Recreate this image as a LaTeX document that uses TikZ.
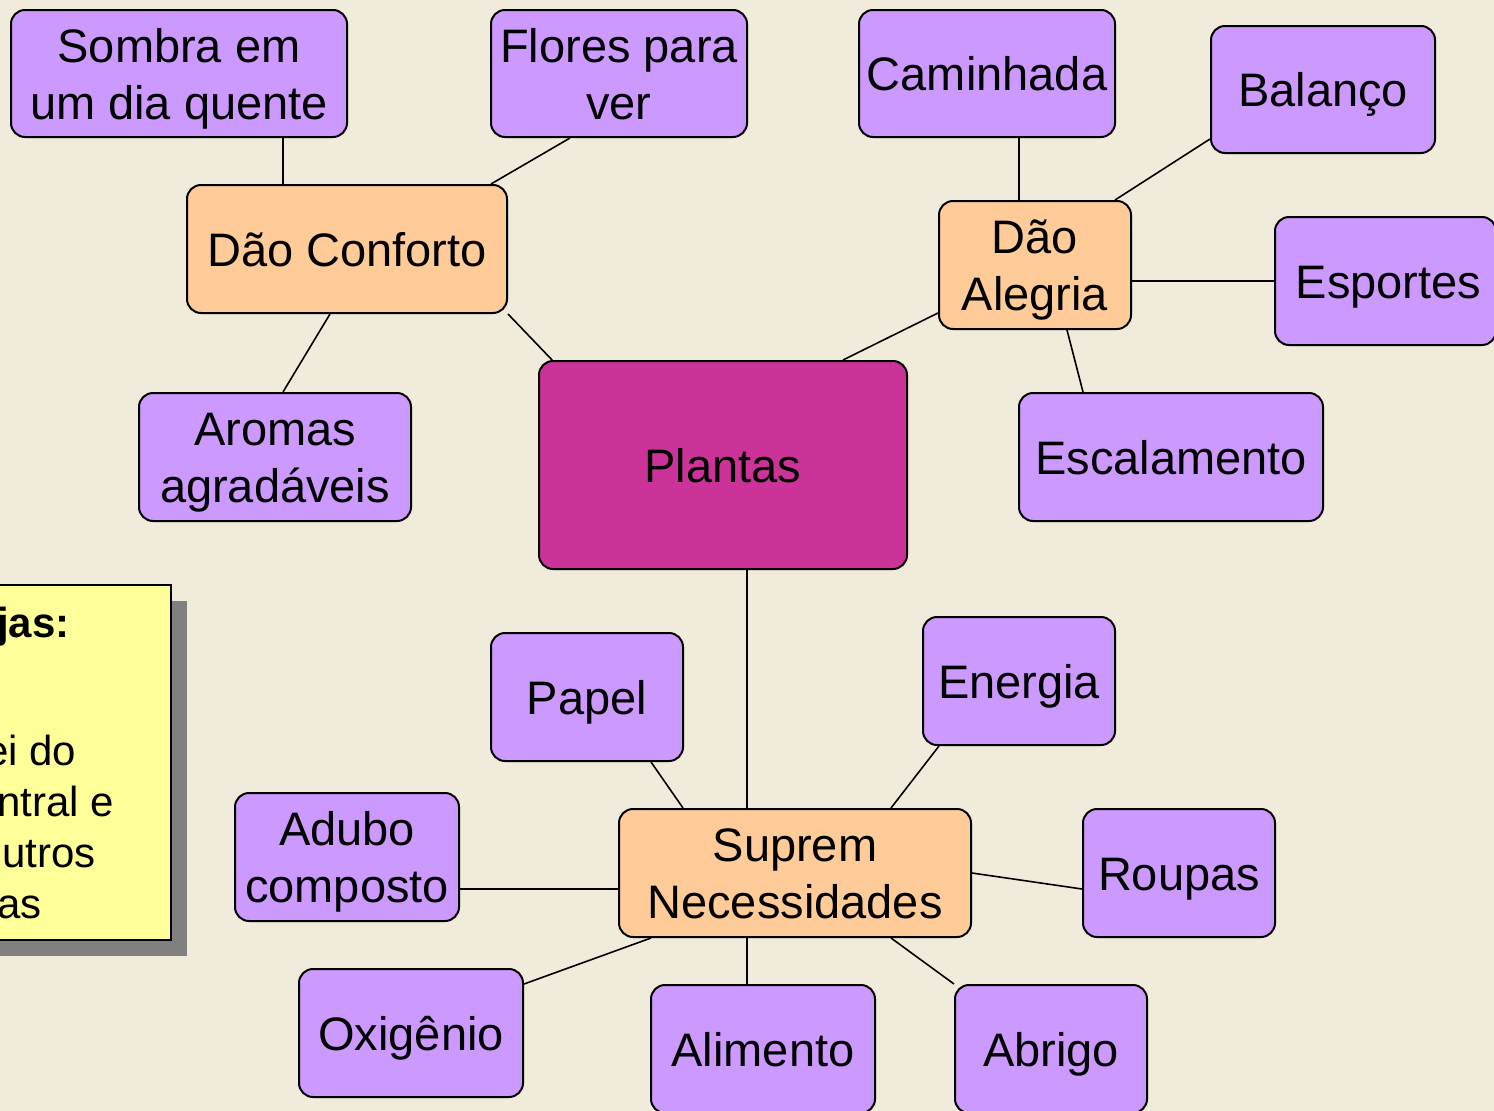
\documentclass[tikz,border=0pt]{standalone}
\usepackage{fontspec}
\setmainfont{Liberation Sans}
\usetikzlibrary{calc}
\definecolor{bgc}{RGB}{240,235,218}
\definecolor{purp}{HTML}{CC99FF}
\definecolor{oran}{HTML}{FFCC99}
\definecolor{mage}{HTML}{CC3399}
\definecolor{yell}{HTML}{FFFF99}
\definecolor{shad}{HTML}{808080}
\pgfdeclarelayer{bg}
\pgfdeclarelayer{lines}
\pgfsetlayers{bg,lines,main}
\tikzset{
  box/.style={draw=black, line width=2pt, rounded corners=14pt, inner sep=0pt,
    align=center, font=\fontsize{47}{57}\selectfont, text height=34pt, text depth=0pt},
  two/.style={text height=91pt, text depth=0pt},
  leaf/.style={box, fill=purp},
  mid/.style={box, fill=oran},
  hub/.style={box, fill=mage},
  conn/.style={draw=black, line width=1.6pt}
}
\begin{document}
\begin{tikzpicture}[x=1pt,y=-1pt]
\useasboundingbox (0,0) rectangle (1494,1111);
\begin{pgfonlayer}{bg}
\fill[bgc] (0,0) rectangle (1494,1111);
\end{pgfonlayer}

% note box (cut by the left edge)
\fill[shad] (-20,601) rectangle (187,956);
\draw[line width=2pt, fill=yell] (-20,585) rectangle (171,940);
\node[anchor=north west, align=left, inner sep=0pt,
      font=\fontsize{42}{51}\selectfont] (note) at (-3,607)
  {\textbf{jas:}\\[77pt]\hspace*{-12pt}ei do\\ntral e\\\hspace*{5pt}utros\\as};

% nodes
\node[leaf, two, minimum width=336, minimum height=127] (sombra) at (179,73.5) {Sombra em\\um dia quente};
\node[leaf, two, minimum width=256, minimum height=127] (flores) at (619,73.5) {Flores para\\ver};
\node[leaf, minimum width=256, minimum height=127] (caminhada) at (987,73.5) {Caminhada};
\node[leaf, minimum width=224, minimum height=127] (balanco) at (1323,89.5) {Balanço};
\node[mid, minimum width=320, minimum height=128] (conforto) at (347,249) {Dão Conforto};
\node[mid, two, minimum width=192, minimum height=128] (alegria) at (1035,265) {Dão\\Alegria};
\node[leaf, minimum width=221, minimum height=128] (esportes) at (1385.5,281) {\hspace*{6pt}Esportes};
\node[leaf, two, minimum width=272, minimum height=128] (aromas) at (275,457) {Aromas\\agradáveis};
\node[hub, minimum width=368, minimum height=208] (plantas) at (723,465) {Plantas};
\node[leaf, minimum width=304, minimum height=128] (escalamento) at (1171,457) {Escalamento};
\node[leaf, minimum width=192, minimum height=128] (papel) at (587,697) {Papel};
\node[leaf, minimum width=192, minimum height=128] (energia) at (1019,681) {Energia};
\node[leaf, two, minimum width=224, minimum height=128] (adubo) at (347,857) {Adubo\\composto};
\node[mid, two, minimum width=352, minimum height=128] (suprem) at (795,873) {Suprem\\Necessidades};
\node[leaf, minimum width=192, minimum height=128] (roupas) at (1179,873) {Roupas};
\node[leaf, minimum width=224, minimum height=128] (oxigenio) at (411,1033) {Oxigênio};
\node[leaf, minimum width=224, minimum height=128] (alimento) at (763,1049) {Alimento};
\node[leaf, minimum width=192, minimum height=128] (abrigo) at (1051,1049) {Abrigo};

% connectors
\begin{pgfonlayer}{lines}
\draw[conn] ($(sombra.south)+(104,0)$) -- ($(conforto.north)+(-64,0)$);
\draw[conn] ($(flores.south)+(-49,0)$) -- ($(conforto.north)+(144,0)$);
\draw[conn] ($(conforto.south)+(-17,0)$) -- ($(aromas.north)+(8,0)$);
\draw[conn] (conforto.south east) -- ($(plantas.north west)+(16,2)$);
\draw[conn] ($(caminhada.south)+(32,0)$) -- ($(alegria.north)+(-16,0)$);
\draw[conn] ($(balanco.south west)+(0,-15)$) -- ($(alegria.north)+(80,0)$);
\draw[conn] ($(alegria.east)+(0,16)$) -- ($(esportes.west)+(0,0)$);
\draw[conn] ($(alegria.south)+(32,0)$) -- ($(escalamento.north)+(-88,0)$);
\draw[conn] ($(alegria.west)+(0,48)$) -- ($(plantas.north)+(120,0)$);
\draw[conn] ($(plantas.south)+(24,0)$) -- ($(suprem.north)+(-48,0)$);
\draw[conn] ($(papel.south)+(64,0)$) -- ($(suprem.north)+(-112,0)$);
\draw[conn] ($(energia.south)+(-80,0)$) -- ($(suprem.north)+(96,0)$);
\draw[conn] ($(adubo.east)+(0,32)$) -- ($(suprem.west)+(0,16)$);
\draw[conn] ($(roupas.west)+(0,16)$) -- (suprem.east);
\draw[conn] ($(oxigenio.north east)+(0,16)$) -- ($(suprem.south)+(-144,0)$);
\draw[conn] ($(alimento.north)+(-16,0)$) -- ($(suprem.south)+(-48,0)$);
\draw[conn] (abrigo.north west) -- ($(suprem.south)+(96,0)$);
\end{pgfonlayer}
\end{tikzpicture}
\end{document}
